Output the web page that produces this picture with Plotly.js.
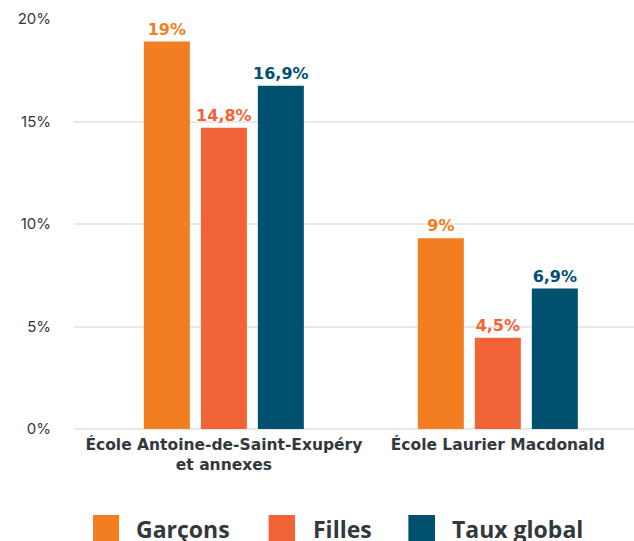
<!DOCTYPE html>
<html><head><meta charset="utf-8">
<script src="https://cdn.plot.ly/plotly-3.0.1.min.js"></script>
<style>html,body{margin:0;padding:0;background:#fff}#c{width:634px;height:541px}</style>
</head><body><div id="c"></div>
<script>
const categories = ["École Antoine-de-Saint-Exupéry<br>et annexes", "École Laurier Macdonald"];
const seriesNames = ["Garçons", "Filles", "Taux global"];
const garcons = [18.9, 9.3];
const filles = [14.7, 4.45];
const tauxGlobal = [16.75, 6.85];
const garconsLabels = ["19%", "9%"];
const fillesLabels = ["14,8%", "4,5%"];
const tauxLabels = ["16,9%", "6,9%"];
const yTickVals = [0, 5, 10, 15, 20];
const yTickText = ["0%", "5%", "10%", "15%", "20%"];

const colors = ["#F37E21", "#F26338", "#00506F"];
const textColor = "#33383d";
const vals = [garcons, filles, tauxGlobal];
const labs = [garconsLabels, fillesLabels, tauxLabels];

const data = vals.map((v, i) => ({
  type: "bar", x: categories, y: v, name: seriesNames[i],
  marker: {color: colors[i]}, text: labs[i], textposition: "outside", constraintext: "none",
  textfont: {family: "DejaVu Sans", size: 16, color: colors[i], weight: 700},
  cliponaxis: false, showlegend: false, hoverinfo: "skip"
}));

const annotations = [];
const shapes = [];
const legX0 = [0.0339, 0.3475, 0.5971];
const legX1 = [0.0804, 0.3946, 0.6446];
const legTx = [0.1071, 0.4225, 0.6723];
seriesNames.forEach((n, i) => {
  shapes.push({type: "rect", xref: "paper", yref: "paper", x0: legX0[i], x1: legX1[i],
    y0: -0.2732, y1: -0.2098, fillcolor: colors[i], line: {width: 0}});
  annotations.push({xref: "paper", yref: "paper", x: legTx[i], y: -0.2451,
    xanchor: "left", yanchor: "middle", showarrow: false, text: n,
    font: {family: "Open Sans", size: 23, color: textColor, weight: 700}});
});

const layout = {
  width: 634, height: 541,
  margin: {l: 74, r: 0, t: 19, b: 112},
  paper_bgcolor: "#fff", plot_bgcolor: "#fff",
  barmode: "group", bargap: 0.376, bargroupgap: 0.193,
  xaxis: {type: "category", range: [-0.547, 1.497], ticks: "", showgrid: false, zeroline: false,
    tickfont: {family: "DejaVu Sans", size: 15.5, color: textColor, weight: 700}, ticklabelstandoff: 4},
  yaxis: {range: [0, 20], tickvals: yTickVals, ticktext: yTickText, showgrid: true, gridcolor: "#e8e8e8", gridwidth: 2,
    zeroline: true, zerolinecolor: "#e8e8e8", zerolinewidth: 2, ticks: "", ticklabelstandoff: 22,
    tickfont: {family: "Inter", size: 15, color: textColor}},
  annotations: annotations, shapes: shapes
};
Plotly.newPlot("c", data, layout, {displayModeBar: false, staticPlot: true});
</script></body></html>
